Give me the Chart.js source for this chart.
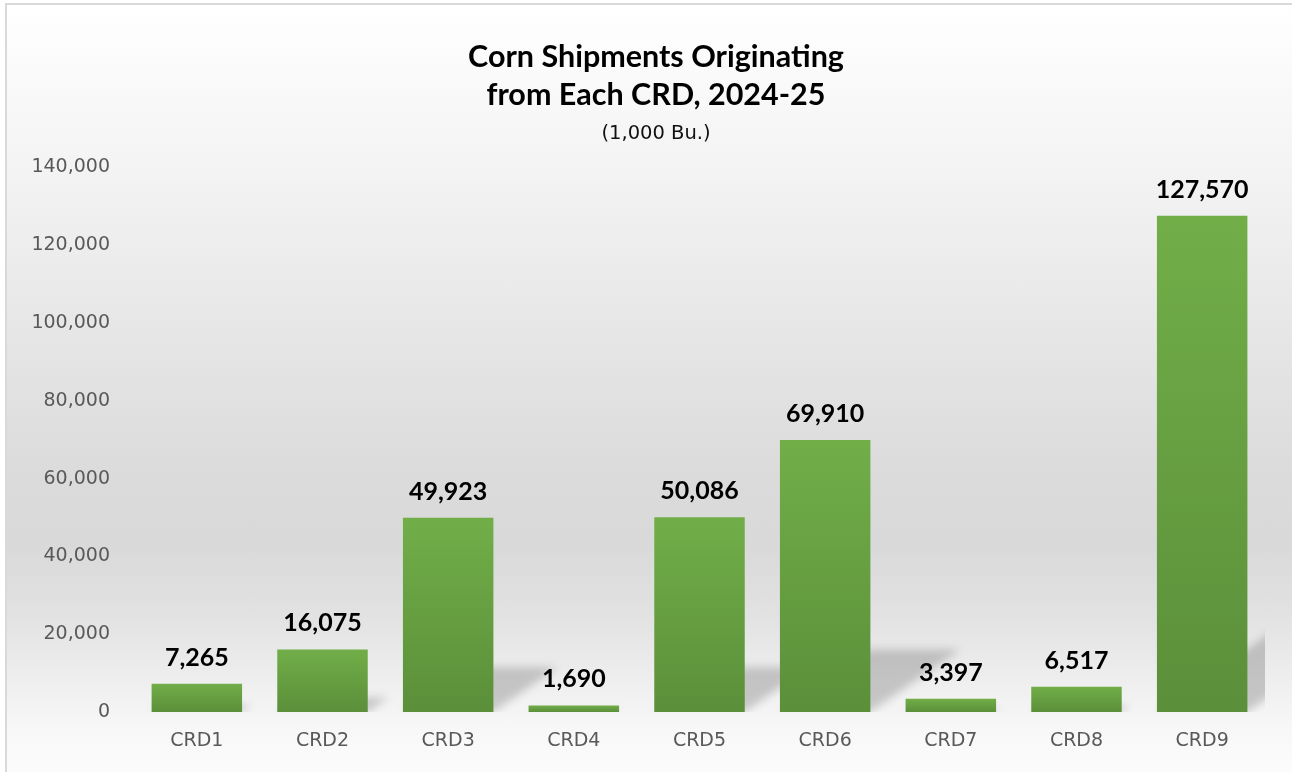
<!DOCTYPE html>
<html>
<head>
<meta charset="utf-8">
<script src="https://cdn.jsdelivr.net/npm/chart.js@4.4.1/dist/chart.umd.min.js"></script>
<style>
  html, body { margin: 0; padding: 0; overflow: hidden; background: #ffffff; width: 1292px; height: 772px; }
  #frame {
    position: absolute; left: 5px; top: 3px; width: 1320px; height: 800px;
    border-left: 2px solid #d9d9d9; border-top: 2px solid #d9d9d9;
    background: linear-gradient(to bottom,
      #ffffff 0px, #f4f4f4 155px, #e6e6e6 330px, #dbdbdb 470px,
      #d9d9d9 540px, #e2e2e2 610px, #efefef 680px, #f7f7f7 720px, #fbfbfb 760px, #fdfdfd 800px);
  }
  #c { position: absolute; left: 0; top: 0; }
</style>
</head>
<body>
<div id="frame"></div>
<canvas id="c" width="1292" height="772"></canvas>
<script>
const categories = ['CRD1', 'CRD2', 'CRD3', 'CRD4', 'CRD5', 'CRD6', 'CRD7', 'CRD8', 'CRD9'];
const shipments = [7265, 16075, 49923, 1690, 50086, 69910, 3397, 6517, 127570];
const yMin = 0;
const yMax = 140000;
const yStep = 20000;
const titleLines = ['Corn Shipments Originating', 'from Each CRD, 2024-25'];
const subtitleText = '(1,000 Bu.)';

const fmt = v => Number(v).toLocaleString('en-US');

// shift the title/subtitle boxes so they centre over the whole chart frame
const titleShiftPlugin = {
  id: 'titleShift',
  afterLayout(chart) {
    chart.boxes.forEach(b => {
      if (b.position === 'top' && b.options && b.options.text !== undefined) {
        b.left = 47;
        b.width = b.right - b.left;
      }
    });
  }
};

const shadowPlugin = {
  id: 'barShadow',
  beforeDatasetsDraw(chart) {
    const ctx = chart.ctx;
    const area = chart.chartArea;
    const meta = chart.getDatasetMeta(0);
    ctx.save();
    ctx.beginPath();
    ctx.rect(area.left, area.top, area.right - area.left, area.bottom - area.top);
    ctx.clip();
    ctx.filter = 'blur(4px)';
    ctx.fillStyle = 'rgba(0,0,0,0.18)';
    meta.data.forEach(bar => {
      const p = bar.getProps(['x', 'y', 'base', 'width'], true);
      const h = p.base - p.y;
      const dx = h * 0.33, dy = h * 0.23;
      const l = p.x - p.width / 2, r = p.x + p.width / 2;
      ctx.beginPath();
      ctx.moveTo(l, p.base);
      ctx.lineTo(r, p.base);
      ctx.lineTo(r + dx, p.base - dy);
      ctx.lineTo(l + dx, p.base - dy);
      ctx.closePath();
      ctx.fill();
    });
    ctx.restore();
  }
};

const labelPlugin = {
  id: 'barLabels',
  afterDatasetsDraw(chart) {
    const ctx = chart.ctx;
    const meta = chart.getDatasetMeta(0);
    ctx.save();
    ctx.font = 'bold 25px Lato';
    ctx.fillStyle = '#000000';
    ctx.textAlign = 'center';
    ctx.textBaseline = 'alphabetic';
    meta.data.forEach((bar, i) => {
      const p = bar.getProps(['x', 'y'], true);
      ctx.fillText(fmt(shipments[i]), p.x, p.y - 18);
    });
    ctx.restore();
  }
};

function barGradient(context) {
  const chart = context.chart;
  const ys = chart.scales && chart.scales.y;
  if (!ys || context.raw === undefined) return '#66a040';
  const top = ys.getPixelForValue(context.raw);
  const bottom = ys.getPixelForValue(0);
  if (!isFinite(top) || !isFinite(bottom) || bottom - top < 1) return '#66a040';
  const g = chart.ctx.createLinearGradient(0, top, 0, bottom);
  g.addColorStop(0, '#71ae48');
  g.addColorStop(1, '#5b8f3a');
  return g;
}

new Chart(document.getElementById('c'), {
  type: 'bar',
  data: {
    labels: categories,
    datasets: [{
      data: shipments,
      backgroundColor: barGradient,
      borderWidth: 0,
      categoryPercentage: 0.72,
      barPercentage: 1.0
    }]
  },
  options: {
    responsive: false,
    animation: false,
    events: [],
    layout: { padding: { left: 0, right: 27, top: 0, bottom: 0 } },
    plugins: {
      legend: { display: false },
      tooltip: { enabled: false },
      title: {
        display: true,
        text: titleLines,
        color: '#000000',
        font: { family: 'Lato', size: 30.5, weight: 'bold', lineHeight: 1.246 },
        padding: { top: 38, bottom: 0 }
      },
      subtitle: {
        display: true,
        text: subtitleText,
        color: '#111111',
        font: { family: 'DejaVu Sans', size: 19.5, lineHeight: 1.2 },
        padding: { top: 8, bottom: 22 }
      }
    },
    scales: {
      x: {
        grid: { display: false, drawTicks: false },
        border: { display: false },
        ticks: { color: '#595959', font: { family: 'DejaVu Sans', size: 19 }, padding: 18 },
        afterFit(scale) { scale.height = 60; }
      },
      y: {
        min: yMin,
        max: yMax,
        grid: { display: false, drawTicks: false },
        border: { display: false },
        ticks: {
          stepSize: yStep,
          color: '#595959',
          font: { family: 'DejaVu Sans', size: 19 },
          padding: 24,
          callback: v => fmt(v)
        },
        afterFit(scale) { scale.width = 134; }
      }
    }
  },
  plugins: [titleShiftPlugin, shadowPlugin, labelPlugin]
});
</script>
</body>
</html>
